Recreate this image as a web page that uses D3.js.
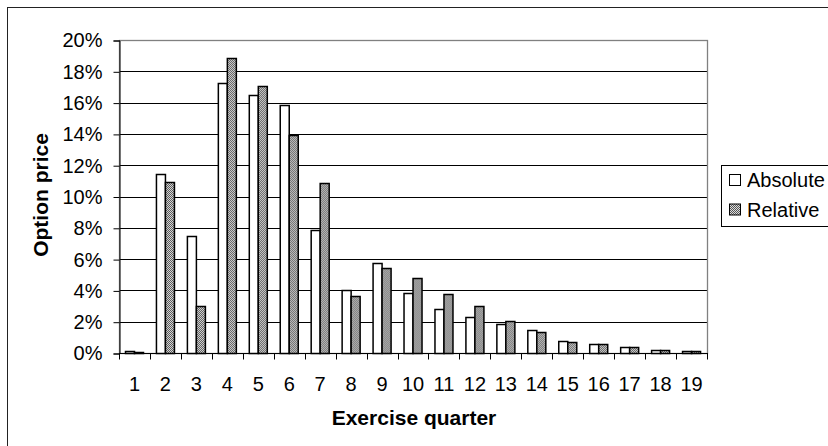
<!DOCTYPE html>
<html>
<head>
<meta charset="utf-8">
<script src="https://cdn.jsdelivr.net/npm/d3@7"></script>
<style>
  html, body { margin: 0; padding: 0; background: #fff; }
  svg { display: block; font-family: "Liberation Sans", Arial, sans-serif; }
</style>
</head>
<body>
<div id="chart"></div>
<script>
// Option price by exercise quarter, two valuation approaches
const quarters = d3.range(1, 20).map(String);
const seriesNames = ["Absolute", "Relative"];
const absoluteVals = [0.1, 11.45, 7.5, 17.25, 16.5, 15.85, 7.85, 4.05, 5.75, 3.85, 2.8, 2.3, 1.85, 1.5, 0.75, 0.6, 0.4, 0.2, 0.15];
const relativeVals = [0.05, 10.95, 3.0, 18.85, 17.05, 13.95, 10.85, 3.65, 5.4, 4.8, 3.75, 3.0, 2.05, 1.35, 0.7, 0.6, 0.4, 0.2, 0.1];
const yTicks = [0, 2, 4, 6, 8, 10, 12, 14, 16, 18, 20];

const W = 828, H = 446;
const plot = { left: 119, top: 40, right: 707, bottom: 353 };

const svg = d3.select("#chart").append("svg")
  .attr("width", W).attr("height", H)
  .attr("viewBox", `0 0 ${W} ${H}`);

// checkered grey fill used for the "Relative" bars
const defs = svg.append("defs");
const pat = defs.append("pattern")
  .attr("id", "dots")
  .attr("width", 2).attr("height", 2)
  .attr("patternUnits", "userSpaceOnUse");
pat.append("rect").attr("width", 2).attr("height", 2).attr("fill", "#dcdcdc");
pat.append("rect").attr("width", 1).attr("height", 1).attr("fill", "#555");
pat.append("rect").attr("x", 1).attr("y", 1).attr("width", 1).attr("height", 1).attr("fill", "#555");

const fills = { Absolute: "#fff", Relative: "url(#dots)" };

// outer chart frame (runs off the right/bottom edge)
svg.append("rect")
  .attr("x", 7.5).attr("y", 7.5)
  .attr("width", W + 20).attr("height", H + 20)
  .attr("fill", "none").attr("stroke", "#222");

const x0 = d3.scaleBand().domain(quarters).range([plot.left, plot.right]).padding(0);
const x1 = d3.scaleBand().domain(seriesNames).range([0, x0.bandwidth()])
  .paddingInner(0).paddingOuter(0.72);
const y = d3.scaleLinear().domain([0, 20]).range([plot.bottom, plot.top]);

// gridlines
svg.append("g").selectAll("line").data(yTicks.filter((d) => d > 0)).enter().append("line")
  .attr("x1", plot.left).attr("x2", plot.right)
  .attr("y1", (d) => Math.round(y(d)) + 0.5).attr("y2", (d) => Math.round(y(d)) + 0.5)
  .attr("stroke", "#000").attr("stroke-width", 1);

// plot area frame
svg.append("rect")
  .attr("x", plot.left + 0.5).attr("y", Math.round(y(20)) + 0.5)
  .attr("width", plot.right - plot.left)
  .attr("height", Math.round(y(0)) - Math.round(y(20)))
  .attr("fill", "none").attr("stroke", "#808080").attr("stroke-width", 1.3);

// bars
const rows = quarters.map((q, i) => ({ q, vals: [
  { s: "Absolute", v: absoluteVals[i] },
  { s: "Relative", v: relativeVals[i] }
] }));
const groups = svg.append("g").selectAll("g").data(rows).enter().append("g")
  .attr("transform", (d) => `translate(${x0(d.q)},0)`);
groups.selectAll("rect").data((d) => d.vals).enter().append("rect")
  .attr("x", (d) => Math.round(x1(d.s)) + 0.5)
  .attr("y", (d) => Math.round(y(d.v)) + 0.5)
  .attr("width", Math.round(x1.bandwidth()))
  .attr("height", (d) => Math.max(0.5, Math.round(y(0)) - Math.round(y(d.v))))
  .attr("fill", (d) => fills[d.s])
  .attr("stroke", "#000").attr("stroke-width", 1.5);

// y axis
const yAxis = svg.append("g")
  .attr("transform", `translate(${plot.left + 0.5},0.5)`)
  .call(d3.axisLeft(y).tickValues(yTicks).tickSize(6).tickPadding(11)
    .tickFormat((d) => d + "%"));
yAxis.select(".domain").attr("stroke", "#000");
yAxis.selectAll(".tick line").attr("stroke", "#000");
yAxis.selectAll("text").attr("font-size", 20).attr("fill", "#000")
  .attr("font-family", "Liberation Sans, Arial, sans-serif");

// x axis: ticks between categories
const xAxis = svg.append("g").attr("transform", `translate(0,${Math.round(y(0)) + 0.5})`);
xAxis.append("line").attr("x1", plot.left).attr("x2", plot.right + 1).attr("stroke", "#000");
xAxis.selectAll("line.tk").data(d3.range(quarters.length + 1)).enter().append("line")
  .attr("class", "tk")
  .attr("x1", (d) => Math.round(plot.left + d * x0.step()) + 0.5)
  .attr("x2", (d) => Math.round(plot.left + d * x0.step()) + 0.5)
  .attr("y1", 0).attr("y2", 6).attr("stroke", "#000");
xAxis.selectAll("text").data(quarters).enter().append("text")
  .attr("x", (d) => x0(d) + x0.bandwidth() / 2)
  .attr("y", 37)
  .attr("text-anchor", "middle")
  .attr("font-size", 20)
  .text((d) => d);

// axis titles
svg.append("text")
  .attr("x", 414).attr("y", 425)
  .attr("text-anchor", "middle")
  .attr("font-size", 21).attr("font-weight", "bold")
  .text("Exercise quarter");
svg.append("text")
  .attr("transform", "translate(48,195) rotate(-90)")
  .attr("text-anchor", "middle")
  .attr("font-size", 21).attr("font-weight", "bold")
  .text("Option price");

// legend
const legend = svg.append("g");
legend.append("rect")
  .attr("x", 721.5).attr("y", 165.5).attr("width", 120).attr("height", 61)
  .attr("fill", "#fff").attr("stroke", "#000");
seriesNames.forEach((s, i) => {
  legend.append("rect")
    .attr("x", 729.5).attr("y", 174.5 + i * 29.5)
    .attr("width", 11).attr("height", 11)
    .attr("fill", fills[s]).attr("stroke", "#000");
  legend.append("text")
    .attr("x", 747).attr("y", 187 + i * 30)
    .attr("font-size", 20)
    .text(s);
});
</script>
</body>
</html>
